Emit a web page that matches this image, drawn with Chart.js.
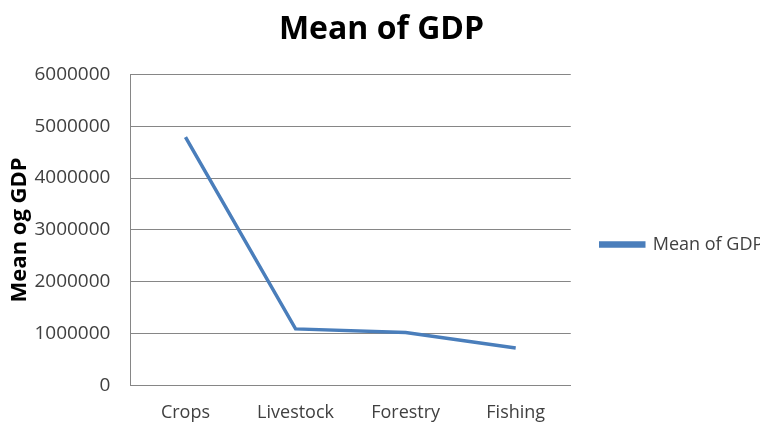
<!DOCTYPE html>
<html>
<head>
<meta charset="utf-8">
<script src="https://cdn.jsdelivr.net/npm/chart.js@4/dist/chart.umd.min.js"></script>
<style>
  html, body { margin: 0; padding: 0; background: #ffffff; }
  #wrap { width: 762px; height: 422px; }
</style>
</head>
<body>
<div id="wrap"><canvas id="gdpChart"></canvas></div>
<script>
// 部門別 GDP 平均
const sectors = ['Crops', 'Livestock', 'Forestry', 'Fishing'];
const meanGdp = [4790000, 1090000, 1020000, 720000];
const yTicks = [0, 1000000, 2000000, 3000000, 4000000, 5000000, 6000000];

const lineColor = '#4a7ebb';
const axisColor = '#868686';
const textColor = '#404040';
const fontFamily = '"Open Sans", "Liberation Sans", sans-serif';

const ctx = document.getElementById('gdpChart').getContext('2d');
new Chart(ctx, {
    type: 'line',
    data: {
        labels: sectors,
        datasets: [{
            label: 'Mean of GDP',
            data: meanGdp,
            borderColor: lineColor,
            backgroundColor: lineColor,
            borderWidth: 3.5,
            pointRadius: 0,
            tension: 0,
            fill: false
        }]
    },
    options: {
        responsive: true,
        maintainAspectRatio: false,
        animation: false,
        layout: {
            padding: { top: 11, left: 3, right: 2, bottom: -19 }
        },
        plugins: {
            title: {
                display: true,
                text: 'Mean of GDP',
                color: '#000000',
                font: { family: fontFamily, size: 32, weight: 'bold' },
                padding: { top: 0, bottom: 25 }
            },
            legend: {
                position: 'right',
                // 凡例を少し下げるための空タイトル
                title: {
                    display: true,
                    text: ' ',
                    font: { size: 10 },
                    padding: { top: 12, bottom: 13 }
                },
                labels: {
                    color: textColor,
                    font: { family: fontFamily, size: 18 },
                    boxWidth: 43,
                    boxHeight: 3,
                    padding: 30
                }
            },
            tooltip: { enabled: false }
        },
        scales: {
            y: {
                min: 0,
                max: 6000000,
                afterBuildTicks: axis => {
                    axis.ticks = yTicks.map(v => ({ value: v }));
                },
                grid: {
                    color: axisColor,
                    drawTicks: false
                },
                border: { display: true, color: axisColor },
                ticks: {
                    color: textColor,
                    font: { family: fontFamily, size: 19 },
                    padding: 20,
                    callback: v => String(v)
                },
                title: {
                    display: true,
                    text: 'Mean og GDP',
                    color: '#000000',
                    font: { family: fontFamily, size: 22, weight: 'bold' },
                    padding: { top: 4, bottom: -19 }
                }
            },
            x: {
                offset: true,
                grid: { display: false, drawTicks: false },
                border: { display: true, color: axisColor },
                ticks: {
                    color: textColor,
                    font: { family: fontFamily, size: 18 },
                    padding: 17
                }
            }
        }
    }
});
</script>
</body>
</html>
